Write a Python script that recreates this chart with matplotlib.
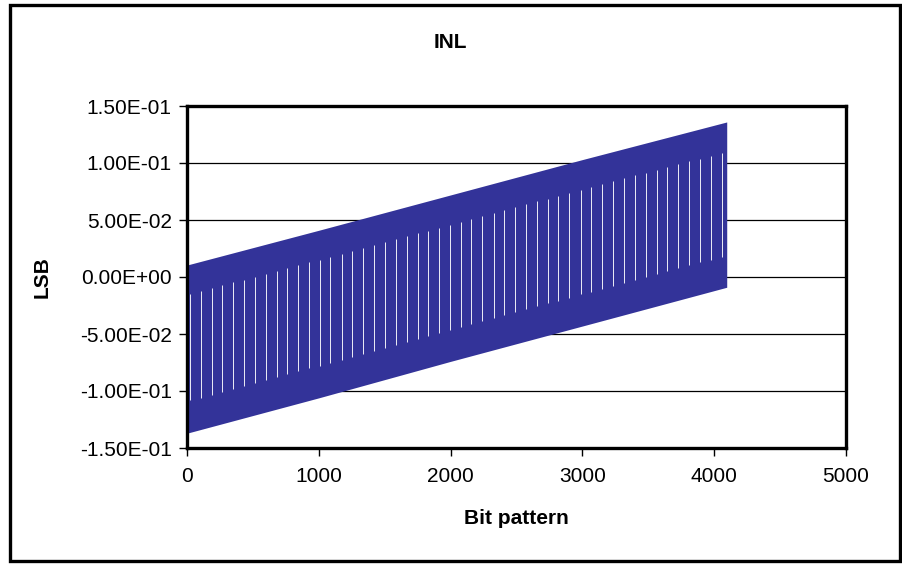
import numpy as np
import matplotlib.pyplot as plt

plt.rcParams['font.family'] = ['Liberation Sans', 'DejaVu Sans']

# INL band (envelope of the dense code-by-code trace)
codes = [0, 1000, 2000, 3000, 4095]
upper = [0.0105, 0.041, 0.072, 0.103, 0.136]
lower = [-0.137, -0.106, -0.074, -0.043, -0.009]

# codes where the trace leaves thin white slits
gap_codes = [23, 104, 187, 268, 351, 432, 516, 599, 681, 761, 845, 928, 1009,
             1087, 1174, 1254, 1338, 1419, 1502, 1586, 1667, 1750, 1831, 1914, 1995,
             2077, 2155, 2241, 2329, 2407, 2491, 2570, 2653, 2737, 2817, 2900, 2989, 3068,
             3151, 3235, 3318, 3402, 3483, 3564, 3645, 3728, 3812, 3893, 3976, 4057]

x_ticks = [0, 1000, 2000, 3000, 4000, 5000]
y_ticks = [-0.15, -0.10, -0.05, 0.0, 0.05, 0.10, 0.15]
y_labels = ['-1.50E-01', '-1.00E-01', '-5.00E-02', '0.00E+00', '5.00E-02', '1.00E-01', '1.50E-01']

navy = '#333399'

fig = plt.figure(figsize=(9.02, 5.64), dpi=100)
ax = fig.add_axes([187/902, 1-448/564, (846-187)/902, (448-106)/564])

# outer chart frame
fig.patches.append(plt.Rectangle((10/902, 3/564), 890/902, 556/564, transform=fig.transFigure,
                                 fill=False, edgecolor='black', linewidth=2.4))

for y in y_ticks[1:-1]:
    ax.axhline(y, color='black', linewidth=0.9, zorder=1)

ax.fill_between(codes, lower, upper, color=navy, linewidth=0, zorder=2)

gc = np.array(gap_codes)
g_lo = np.interp(gc, codes, lower) + 0.028
g_hi = np.interp(gc, codes, upper) - 0.026
ax.vlines(gc, g_lo, g_hi, color='#eeeef6', linewidth=0.7, zorder=3)

ax.set_xlim(0, 5000)
ax.set_ylim(-0.15, 0.15)
ax.set_xticks(x_ticks)
ax.set_yticks(y_ticks)
ax.set_yticklabels(y_labels)
ax.tick_params(labelsize=15, length=6, width=1, direction='out', colors='black')
ax.tick_params(axis='y', pad=5)
ax.tick_params(axis='x', pad=8)
for s in ax.spines.values():
    s.set_linewidth(2.4)
    s.set_color('black')

ax.set_xlabel('Bit pattern', fontsize=15, fontweight='bold', labelpad=16)
ax.set_ylabel('LSB', fontsize=15, fontweight='bold', labelpad=20)
fig.text(450/902, 1-42/564, 'INL', fontsize=15, fontweight='bold', ha='center', va='center')

fig.savefig('out.png', dpi=100)
